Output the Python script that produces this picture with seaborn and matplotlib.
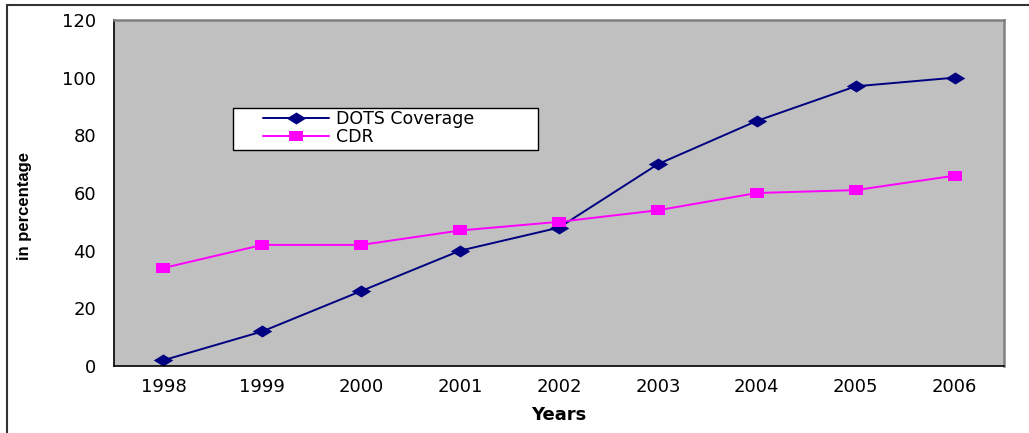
import matplotlib
matplotlib.use("Agg")
import matplotlib.pyplot as plt
import seaborn as sns
import pandas as pd
from matplotlib.lines import Line2D
from matplotlib.patches import Rectangle
from matplotlib.path import Path

years = [1998, 1999, 2000, 2001, 2002, 2003, 2004, 2005, 2006]
dots_coverage = [2, 12, 26, 40, 48, 70, 85, 97, 100]
cdr = [34, 42, 42, 47, 50, 54, 60, 61, 66]
series_names = ["DOTS Coverage", "CDR"]

df = pd.DataFrame({
    "Year": years * 2,
    "Value": dots_coverage + cdr,
    "Series": [series_names[0]] * len(years) + [series_names[1]] * len(years),
})

sns.set_style("white")
plt.rcParams["font.family"] = ["DejaVu Sans"]
plt.rcParams["text.color"] = "black"
plt.rcParams["axes.labelcolor"] = "black"
plt.rcParams["xtick.color"] = "black"
plt.rcParams["ytick.color"] = "black"

W, H = 1029, 433
fig = plt.figure(figsize=(W / 100, H / 100), dpi=100)
ax = fig.add_axes([114 / W, 1 - 366 / H, (1004 - 114) / W, (366 - 20) / H])
ax.set_facecolor("#C0C0C0")

NAVY = "#000080"
MAG = "#FF00FF"
palette = {"DOTS Coverage": NAVY, "CDR": MAG}
markers = {"DOTS Coverage": "D", "CDR": "s"}
sns.lineplot(data=df, x="Year", y="Value", hue="Series", style="Series",
             palette=palette, markers=markers, dashes=False, ax=ax,
             linewidth=1.4, markersize=8, markeredgewidth=0, legend=False)

diamond = Path([(-1, 0), (0, 0.62), (1, 0), (0, -0.62), (-1, 0)],
               [Path.MOVETO, Path.LINETO, Path.LINETO, Path.LINETO, Path.CLOSEPOLY])
rect = Path([(-1, -0.7), (1, -0.7), (1, 0.7), (-1, 0.7), (-1, -0.7)],
            [Path.MOVETO, Path.LINETO, Path.LINETO, Path.LINETO, Path.CLOSEPOLY])
DSIZE, SSIZE = 14, 10
for line in ax.get_lines():
    c = matplotlib.colors.to_hex(line.get_color())
    if c.lower() == NAVY.lower():
        line.set_marker(diamond)
        line.set_markersize(DSIZE)
    else:
        line.set_marker(rect)
        line.set_markersize(SSIZE)
    line.set_markeredgewidth(0)

ax.set_xlim(years[0] - 0.5, years[-1] + 0.5)
ax.set_ylim(0, 120)
ax.set_yticks(range(0, 121, 20))
ax.set_xticks([y - 0.5 for y in years] + [years[-1] + 0.5])
ax.set_xticklabels([])
ax.set_xticks(years, minor=True)
ax.set_xticklabels([str(y) for y in years], minor=True, fontsize=13)
ax.tick_params(axis="x", which="minor", length=0, pad=9)
ax.tick_params(axis="x", which="major", length=5, width=1, color="black", direction="out")
ax.tick_params(axis="y", length=6, width=1, color="black", direction="out", labelsize=13, pad=7)

for s in ["left", "bottom"]:
    ax.spines[s].set_color("black")
    ax.spines[s].set_linewidth(1.2)
for s in ["top", "right"]:
    ax.spines[s].set_color("#808080")
    ax.spines[s].set_linewidth(1.8)

ax.set_xlabel("Years", fontsize=13, fontweight="bold")
ax.xaxis.set_label_coords(0.5, -(415 - 366) / 346)
ax.xaxis.label.set_va("center")
ax.set_ylabel("in percentage", fontsize=12, fontweight="bold",
              family=["Liberation Sans Narrow", "Liberation Sans"])
ax.yaxis.set_label_coords((25 - 114) / 890, (366 - 206) / 346)
ax.yaxis.label.set_va("center")

# legend box
ax.add_patch(Rectangle(((233 - 114) / 890, (366 - 150) / 346), (538 - 233) / 890, (150 - 108) / 346,
                       transform=ax.transAxes, facecolor="white", edgecolor="black",
                       linewidth=1.0, zorder=5))
handles = [
    Line2D([0], [0], color=NAVY, lw=1.4, marker=diamond, markersize=DSIZE, markeredgewidth=0),
    Line2D([0], [0], color=MAG, lw=1.4, marker=rect, markersize=SSIZE, markeredgewidth=0),
]
leg = ax.legend(handles, series_names, loc="upper left",
                bbox_to_anchor=((263 - 114) / 890, (366 - 110) / 346),
                fontsize=12.5, frameon=False, handlelength=3.8,
                borderpad=0, labelspacing=0.0, handletextpad=0.4,
                borderaxespad=0, numpoints=1)
leg.set_zorder(6)
for t in leg.get_texts():
    t.set_color("black")

# figure border (left and top)
fig.add_artist(Line2D([7 / W, 7 / W], [0, 1 - 5 / H], color="#333333", lw=1.5, transform=fig.transFigure))
fig.add_artist(Line2D([7 / W, 1], [1 - 5 / H, 1 - 5 / H], color="#333333", lw=1.5, transform=fig.transFigure))

fig.savefig("out.png", dpi=100)
